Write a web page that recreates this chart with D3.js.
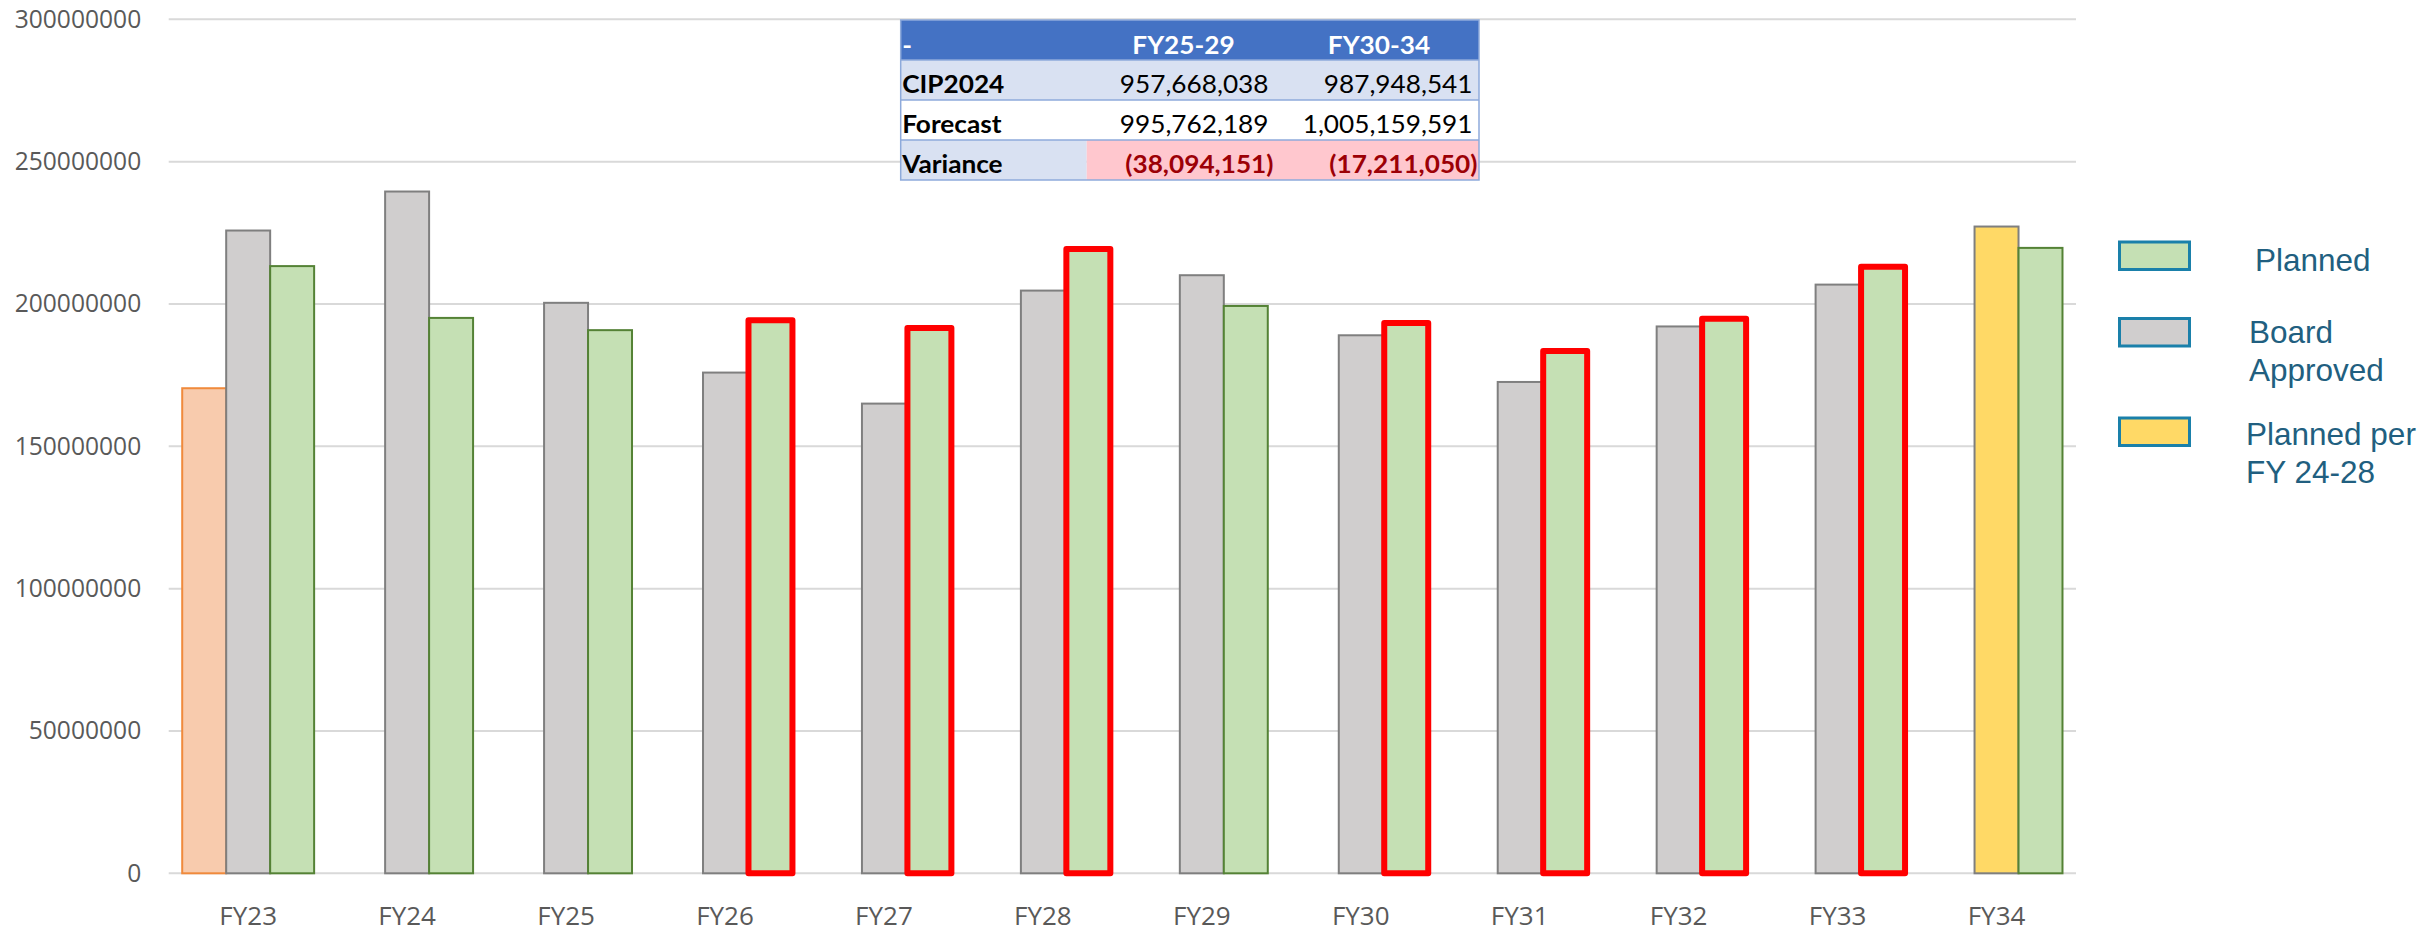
<!DOCTYPE html>
<html>
<head>
<meta charset="utf-8">
<script src="https://cdn.jsdelivr.net/npm/d3@7/dist/d3.min.js"></script>
<style>
  html, body { margin: 0; padding: 0; background: #ffffff; }
  svg { display: block; }
</style>
</head>
<body>
<svg id="chart" width="2425" height="932"></svg>
<script>
// ---------------- DATA ----------------
const categories = ["FY23","FY24","FY25","FY26","FY27","FY28","FY29","FY30","FY31","FY32","FY33","FY34"];
// first slot (FY23 actual, orange)
const actualValues   = [170400000, null, null, null, null, null, null, null, null, null, null, null];
// middle slot: Board Approved (FY34 shown as "Planned per FY 24-28")
const approvedValues = [225800000, 239500000, 200400000, 175900000, 165000000, 204700000, 210100000, 189000000, 172600000, 192100000, 206800000, 227200000];
// last slot: Planned
const plannedValues  = [213300000, 195100000, 190800000, 194300000, 191600000, 219300000, 199300000, 193300000, 183500000, 194800000, 213100000, 219700000];
// planned bars highlighted with a red outline
const highlighted    = ["FY26","FY27","FY28","FY30","FY31","FY32","FY33"];
const yTicks = [0, 50000000, 100000000, 150000000, 200000000, 250000000, 300000000];

const tableHeader = ["-", "FY25-29", "FY30-34"];
const tableRowLabels = ["CIP2024", "Forecast", "Variance"];
const tableCol1 = ["957,668,038", "995,762,189", "(38,094,151)"];
const tableCol2 = ["987,948,541", "1,005,159,591", "(17,211,050)"];

const legendLabels = [["Planned"], ["Board", "Approved"], ["Planned per", "FY 24-28"]];

// ---------------- LAYOUT ----------------
const svg = d3.select("#chart");
const mLeft = 168.7, mRight = 2076, mTop = 19.3, mBottom = 873.3;

const x = d3.scaleBand().domain(categories).range([mLeft, mRight]).paddingInner(0.17).paddingOuter(0.085);
const x1 = d3.scaleBand().domain(["a","b","p"]).range([0, x.bandwidth()]);
const y = d3.scaleLinear().domain([0, 300000000]).range([mBottom, mTop]);

// gridlines
svg.append("g").selectAll("line").data(yTicks).join("line")
  .attr("x1", mLeft).attr("x2", mRight)
  .attr("y1", d => y(d)).attr("y2", d => y(d))
  .attr("stroke", "#d9d9d9").attr("stroke-width", 2);

// y axis labels
const yAxis = d3.axisLeft(y).tickValues(yTicks).tickFormat(d3.format("d")).tickSize(0).tickPadding(27.5);
const gy = svg.append("g").attr("transform", `translate(${mLeft},0)`).call(yAxis);
gy.select(".domain").remove();
gy.selectAll("text").attr("fill", "#595959").style("font-family", "'Open Sans', sans-serif").style("font-size", "24.6px");

// x axis labels
const xAxis = d3.axisBottom(x).tickSize(0).tickPadding(33);
const gx = svg.append("g").attr("transform", `translate(0,${mBottom})`).call(xAxis);
gx.select(".domain").remove();
gx.selectAll("text").attr("fill", "#595959").style("font-family", "'Open Sans', sans-serif").style("font-size", "26px");

// bars
const bars = svg.append("g");
// actual (orange)
bars.selectAll("rect.actual").data(categories.map((c,i) => ({c, v: actualValues[i]})).filter(d => d.v != null))
  .join("rect").attr("class","actual")
  .attr("x", d => x(d.c) + x1("a")).attr("width", x1.bandwidth())
  .attr("y", d => y(d.v)).attr("height", d => y(0) - y(d.v))
  .attr("fill", "#f8cbad").attr("stroke", "#f08a3c").attr("stroke-width", 2);
// approved (gray, FY34 yellow)
bars.selectAll("rect.approved").data(categories.map((c,i) => ({c, v: approvedValues[i]})).filter(d => d.v != null))
  .join("rect").attr("class","approved")
  .attr("x", d => x(d.c) + x1("b")).attr("width", x1.bandwidth())
  .attr("y", d => y(d.v)).attr("height", d => y(0) - y(d.v))
  .attr("fill", d => d.c === "FY34" ? "#ffd966" : "#d0cece")
  .attr("stroke", "#7f7f7f").attr("stroke-width", 2);
// planned (green) normal
const plannedData = categories.map((c,i) => ({c, v: plannedValues[i], hl: highlighted.includes(c)}));
bars.selectAll("rect.planned").data(plannedData.filter(d => !d.hl))
  .join("rect").attr("class","planned")
  .attr("x", d => x(d.c) + x1("p")).attr("width", x1.bandwidth())
  .attr("y", d => y(d.v)).attr("height", d => y(0) - y(d.v))
  .attr("fill", "#c5e0b4").attr("stroke", "#548235").attr("stroke-width", 2);
// planned (green) highlighted with red
bars.selectAll("rect.plannedhl").data(plannedData.filter(d => d.hl))
  .join("rect").attr("class","plannedhl")
  .attr("x", d => x(d.c) + x1("p") + 1.5).attr("width", x1.bandwidth())
  .attr("y", d => y(d.v)).attr("height", d => y(0) - y(d.v))
  .attr("fill", "#c5e0b4").attr("stroke", "#ff0000").attr("stroke-width", 6)
  .attr("stroke-linejoin", "round");

// ---------------- TABLE ----------------
const tX = 900.7, tW = 578.3, rowH = 40, tY = 20;
const colEdges = [900.7, 1086.7, 1278, 1479];
const tbl = svg.append("g");
const sx = 1.07;
const tfont = "Lato, 'Open Sans', sans-serif";
function ttext(xp, yp, str, anchor, weight, color) {
  tbl.append("g").attr("transform", `translate(${xp},${yp}) scale(${sx},1)`)
    .append("text").text(str)
    .attr("text-anchor", anchor)
    .attr("fill", color)
    .style("font-family", tfont).style("font-size", "24.5px").style("font-weight", weight);
}
// backgrounds
tbl.append("rect").attr("x", tX).attr("y", tY).attr("width", tW).attr("height", rowH).attr("fill", "#4472c4");
tbl.append("rect").attr("x", tX).attr("y", tY + rowH).attr("width", tW).attr("height", rowH).attr("fill", "#d9e1f2");
tbl.append("rect").attr("x", tX).attr("y", tY + 2*rowH).attr("width", tW).attr("height", rowH).attr("fill", "#ffffff");
tbl.append("rect").attr("x", tX).attr("y", tY + 3*rowH).attr("width", colEdges[1]-tX).attr("height", rowH).attr("fill", "#d9e1f2");
tbl.append("rect").attr("x", colEdges[1]).attr("y", tY + 3*rowH).attr("width", colEdges[3]-colEdges[1]).attr("height", rowH).attr("fill", "#ffc7ce");
// borders
[1,2,3].forEach(i => {
  tbl.append("line").attr("x1", tX).attr("x2", tX + tW).attr("y1", tY + i*rowH).attr("y2", tY + i*rowH)
    .attr("stroke", "#8eaadb").attr("stroke-width", 1.5);
});
tbl.append("rect").attr("x", tX).attr("y", tY).attr("width", tW).attr("height", 4*rowH)
  .attr("fill", "none").attr("stroke", "#8eaadb").attr("stroke-width", 1.5);
// header
ttext(tX + 1.5, tY + 33.5, tableHeader[0], "start", 700, "#ffffff");
ttext(1183.5, tY + 33.5, tableHeader[1], "middle", 700, "#ffffff");
ttext(1379, tY + 33.5, tableHeader[2], "middle", 700, "#ffffff");
// rows
tableRowLabels.forEach((lab, i) => {
  const by = tY + (i+1)*rowH + 33;
  const neg = i === 2;
  const col = neg ? "#9c0006" : "#000000";
  const w = neg ? 700 : 400;
  ttext(tX + 1.5, by, lab, "start", 700, "#000000");
  ttext(neg ? 1273.5 : 1268.5, by, tableCol1[i], "end", w, col);
  ttext(neg ? 1477.5 : 1472.5, by, tableCol2[i], "end", w, col);
});

// ---------------- LEGEND ----------------
const legend = svg.append("g");
const legendFills = ["#c5e0b4", "#d0cece", "#ffd966"];
const legendBoxY = [242, 318.5, 418];
const legendTextX = [2255, 2249, 2246];
const legendBaseY = [271, 342.7, 445];
legendLabels.forEach((lines, i) => {
  legend.append("rect").attr("x", 2119.5).attr("y", legendBoxY[i]).attr("width", 70).attr("height", 27.5)
    .attr("fill", legendFills[i]).attr("stroke", "#1a80aa").attr("stroke-width", 3);
  lines.forEach((ln, j) => {
    legend.append("text").attr("x", legendTextX[i]).attr("y", legendBaseY[i] + j*37.8).text(ln)
      .attr("fill", "#215f80").style("font-family", "'Liberation Sans', Arial, sans-serif").style("font-size", "31.5px");
  });
});
</script>
</body>
</html>
